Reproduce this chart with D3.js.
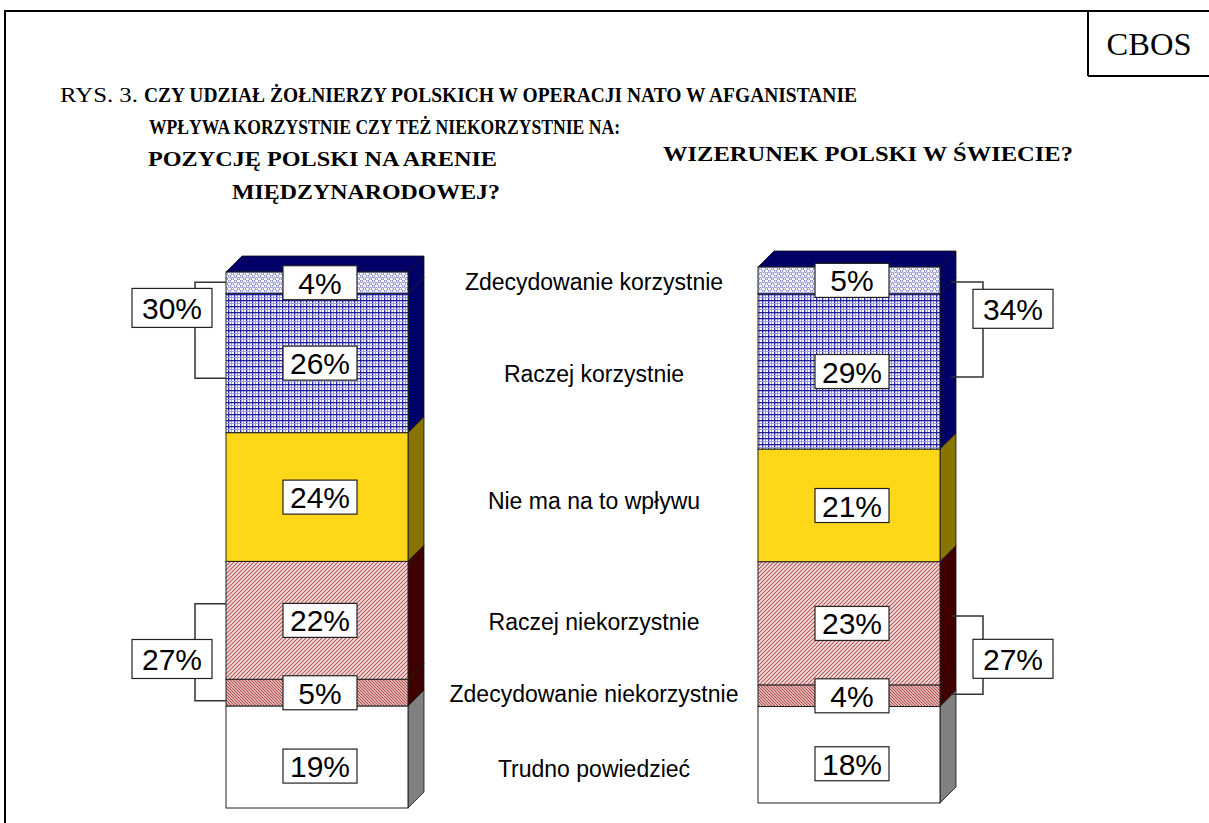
<!DOCTYPE html>
<html><head><meta charset="utf-8">
<script src="https://cdn.jsdelivr.net/npm/d3@7"></script>
<style>body{margin:0;background:#fff}</style></head>
<body><svg id="c" width="1209" height="823"></svg>
<script>
// ---------- data ----------
const categories = ["Zdecydowanie korzystnie","Raczej korzystnie","Nie ma na to wpływu","Raczej niekorzystnie","Zdecydowanie niekorzystnie","Trudno powiedzieć"];
const questions = ["Pozycja","Wizerunek"];
const valuesPozycja = [4,26,24,22,5,19];
const valuesWizerunek = [5,29,21,23,4,18];
const brackets = [
  {bar:0, segs:[0,1], from:1.9, to:19.8, at:6.7, side:"left"},
  {bar:0, segs:[3,4], from:61.9, to:80.0, at:72.2, side:"left"},
  {bar:1, segs:[0,1], from:2.8, to:20.5, at:7.8, side:"right"},
  {bar:1, segs:[3,4], from:65.1, to:79.7, at:73.1, side:"right"}
];
const titlePrefix = "RYS. 3.";
const titleLines = [
  "CZY UDZIAŁ ŻOŁNIERZY POLSKICH W OPERACJI NATO W AFGANISTANIE",
  "WPŁYWA KORZYSTNIE CZY TEŻ NIEKORZYSTNIE NA:"
];
const subtitleLeft = ["POZYCJĘ POLSKI NA ARENIE","MIĘDZYNARODOWEJ?"];
const subtitleRight = "WIZERUNEK POLSKI W ŚWIECIE?";

// ---------- setup ----------
const svg = d3.select("#c");
const W = 1209, H = 823;
const sans = "'Liberation Sans', Arial, sans-serif";
const serif = "'Liberation Serif', 'Times New Roman', serif";

const defs = svg.append("defs");
const p1 = defs.append("pattern").attr("id","pZK").attr("patternUnits","userSpaceOnUse").attr("width",6).attr("height",5);
p1.append("rect").attr("width",6).attr("height",5).attr("fill","#fff");
p1.append("circle").attr("cx",1.5).attr("cy",1.3).attr("r",1.3).attr("fill","none").attr("stroke","#5a5ac0").attr("stroke-width",0.8);
p1.append("circle").attr("cx",4.5).attr("cy",3.8).attr("r",1.3).attr("fill","none").attr("stroke","#5a5ac0").attr("stroke-width",0.8);
const p2 = defs.append("pattern").attr("id","pRK").attr("patternUnits","userSpaceOnUse").attr("width",6).attr("height",6);
p2.append("rect").attr("width",6).attr("height",6).attr("fill","#fff");
p2.append("rect").attr("x",0).attr("width",1.3).attr("height",6).attr("fill","#2a2aa8");
p2.append("rect").attr("x",3).attr("width",1).attr("height",6).attr("fill","#9a9ad8");
p2.append("rect").attr("y",0).attr("height",1.3).attr("width",6).attr("fill","#1e1e9c");
p2.append("rect").attr("y",3).attr("height",1).attr("width",6).attr("fill","#9a9ad8");
const p3 = defs.append("pattern").attr("id","pRN").attr("patternUnits","userSpaceOnUse").attr("width",4).attr("height",4);
p3.append("rect").attr("width",4).attr("height",4).attr("fill","#f3e2e2");
p3.append("path").attr("d","M-1,1 L1,-1 M0,4 L4,0 M3,5 L5,3").attr("stroke","#b85454").attr("stroke-width",1.1);
const p4 = defs.append("pattern").attr("id","pZN").attr("patternUnits","userSpaceOnUse").attr("width",3).attr("height",3);
p4.append("rect").attr("width",3).attr("height",3).attr("fill","#f4e0e0");
p4.append("path").attr("d","M-1,2 L1,4 M0,0 L3,3 M2,-1 L4,1").attr("stroke","#b04444").attr("stroke-width",1.1);

const frontFill = ["url(#pZK)","url(#pRK)","#ffd719","url(#pRN)","url(#pZN)","#ffffff"];
const sideFill = ["#000066","#000066","#887400","#400000","#400000","#808080"];
const topFill = "#000066";

// ---------- frame ----------
svg.append("line").attr("x1",5).attr("y1",11).attr("x2",W).attr("y2",11).attr("stroke","#000").attr("stroke-width",2);
svg.append("line").attr("x1",5).attr("y1",10).attr("x2",5).attr("y2",H).attr("stroke","#000").attr("stroke-width",2);
svg.append("line").attr("x1",1088).attr("y1",11).attr("x2",1088).attr("y2",76).attr("stroke","#000").attr("stroke-width",2);
svg.append("line").attr("x1",1088).attr("y1",76).attr("x2",W).attr("y2",76).attr("stroke","#000").attr("stroke-width",2);
svg.append("text").attr("x",1149).attr("y",55).attr("text-anchor","middle").attr("font-family",serif).attr("font-size",32)
  .attr("textLength",85).attr("lengthAdjust","spacingAndGlyphs").text("CBOS");

// ---------- title ----------
function tline(txt, x0, y0, len, bold, fs) {
  svg.append("text").attr("font-family",serif).attr("font-size",fs).attr("font-weight", bold ? "bold" : "normal")
    .attr("x",x0).attr("y",y0).attr("textLength",len).attr("lengthAdjust","spacingAndGlyphs").text(txt);
}
tline(titlePrefix, 60, 102, 78, false, 20);
tline(titleLines[0], 144, 102, 713, true, 20);
tline(titleLines[1], 149, 134, 471, true, 20);
tline(subtitleLeft[0], 148, 166, 349, true, 20.5);
tline(subtitleLeft[1], 232, 199, 268, true, 20.5);
tline(subtitleRight, 663, 161, 410, true, 20.5);

// ---------- scales ----------
const x = d3.scaleBand().domain(questions).range([226, 940]).paddingInner(0.6579).paddingOuter(0);
const barTops = [272, 267];
const barHeight = 536;
const depth = 16;
const yScales = barTops.map(t => d3.scaleLinear().domain([0,100]).range([t, t + barHeight]));

const allValues = [valuesPozycja, valuesWizerunek];

allValues.forEach((vals, bi) => {
  const q = questions[bi];
  const x0 = x(q), x1 = x(q) + x.bandwidth();
  const y = yScales[bi];
  let cum = 0;
  const segs = vals.map((v, i) => { const s = {i, v, a: cum, b: cum + v}; cum += v; return s; });
  const g = svg.append("g");
  g.selectAll("path.side").data(segs).enter().append("path")
    .attr("d", s => `M${x1},${y(s.a)} L${x1+depth},${y(s.a)-depth} L${x1+depth},${y(s.b)-depth} L${x1},${y(s.b)} Z`)
    .attr("fill", s => sideFill[s.i]).attr("stroke","#111").attr("stroke-width",0.8);
  g.append("path")
    .attr("d", `M${x0},${y(0)} L${x0+depth},${y(0)-depth} L${x1+depth},${y(0)-depth} L${x1},${y(0)} Z`)
    .attr("fill", topFill).attr("stroke","#111").attr("stroke-width",0.8);
  g.selectAll("rect.front").data(segs).enter().append("rect")
    .attr("x", x0).attr("y", s => y(s.a)).attr("width", x1 - x0).attr("height", s => y(s.b) - y(s.a))
    .attr("fill", s => frontFill[s.i]).attr("stroke","#222").attr("stroke-width",1);
  const cx = (x0 + x1) / 2 + 3;
  const lg = g.selectAll("g.lab").data(segs).enter().append("g");
  const ly = s => (y(s.a)+y(s.b))/2 + (s.i === 5 ? 9 : 0);
  lg.append("rect").attr("x", cx - 37).attr("y", s => ly(s) - 17)
    .attr("width", 74).attr("height", 34).attr("fill","#fff").attr("stroke","#222").attr("stroke-width",1.2);
  lg.append("text").attr("x", cx).attr("y", s => ly(s) + 11)
    .attr("text-anchor","middle").attr("font-family",sans).attr("font-size",30).text(s => s.v + "%");
});

// ---------- brackets ----------
brackets.forEach(b => {
  const q = questions[b.bar];
  const x0 = x(q), x1 = x(q) + x.bandwidth();
  const y = yScales[b.bar];
  const total = b.segs.reduce((acc, i) => acc + allValues[b.bar][i], 0);
  const ya = y(b.from), yb = y(b.to);
  let vx, ex, bx;
  if (b.side === "left") { vx = x0 - 31; ex = x0; bx = x0 - 54; }
  else { vx = x1 + depth + 27; ex = x1 + 11; bx = x1 + depth + 57; }
  svg.append("path").attr("d", `M${ex},${ya} L${vx},${ya} L${vx},${yb} L${ex},${yb}`)
    .attr("fill","none").attr("stroke","#333").attr("stroke-width",1.5);
  const by = y(b.at);
  svg.append("rect").attr("x", bx - 40).attr("y", by - 19.5).attr("width", 80).attr("height", 39)
    .attr("fill","#fff").attr("stroke","#222").attr("stroke-width",1.2);
  svg.append("text").attr("x", bx).attr("y", by + 11).attr("text-anchor","middle")
    .attr("font-family",sans).attr("font-size",30).text(total + "%");
});

// ---------- category labels ----------
const mids = categories.map((c, i) => {
  const m = allValues.map((vals, bi) => {
    const a = d3.sum(vals.slice(0, i)), b = a + vals[i];
    return (yScales[bi](a) + yScales[bi](b)) / 2;
  });
  return d3.mean(m);
});
const labelX = (x(questions[0]) + x.bandwidth() + depth + x(questions[1])) / 2 + 3;
svg.selectAll("text.cat").data(categories).enter().append("text")
  .attr("x", labelX).attr("y", (d, i) => mids[i] + 8 + (i === 1 ? 7 : 0) + (i === 5 ? 13 : 0))
  .attr("text-anchor","middle").attr("font-family",sans).attr("font-size",23).text(d => d);
</script>
</body></html>
